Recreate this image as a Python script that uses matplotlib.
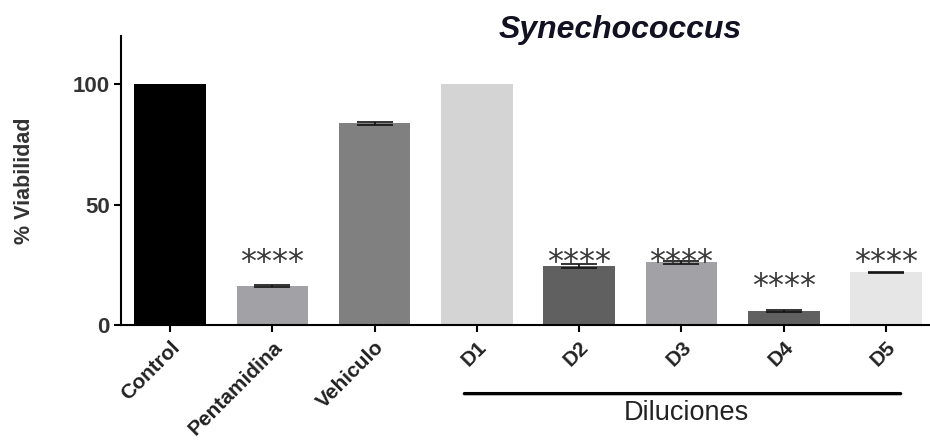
import matplotlib
matplotlib.use("Agg")
import matplotlib.pyplot as plt

plt.rcParams["font.family"] = ["Liberation Sans", "DejaVu Sans"]

categories = ["Control", "Pentamidina", "Vehiculo", "D1", "D2", "D3", "D4", "D5"]
viability = [100.0, 16.2, 83.7, 100.0, 24.5, 26.0, 5.9, 21.9]
sem = [0.0, 0.6, 0.5, 0.0, 1.0, 0.5, 0.3, 0.3]
significant = [False, True, False, False, True, True, True, True]
bar_colors = ["#000000", "#a2a2a6", "#808080", "#d4d4d4",
              "#606060", "#a2a2a6", "#606060", "#e6e6e6"]
yticks = [0, 50, 100]
dilution_group = ["D1", "D2", "D3", "D4", "D5"]

fig = plt.figure(figsize=(9.3, 4.41), dpi=100)
ax = fig.add_axes([121 / 930, 116 / 441, 809 / 930, 289 / 441])

xs = list(range(len(categories)))
ax.bar(xs, viability, width=0.7, color=bar_colors, zorder=2)
ex = [x for x, e in zip(xs, sem) if e > 0]
ey = [v for v, e in zip(viability, sem) if e > 0]
ee = [e for e in sem if e > 0]
ax.errorbar(ex, ey, yerr=ee, fmt="none", ecolor="#111111",
            elinewidth=1.2, capsize=13, capthick=1.2, zorder=3)

# significance stars: GraphPad-style, capped at a common height
for x, v, sig in zip(xs, viability, significant):
    if sig:
        ax.text(x, min(v + 10, 26.0), "****", ha="center", va="center",
                fontsize=23, color="#3a3a3a", family="DejaVu Sans", zorder=4)

ax.set_xlim(-0.48, 7.43)
ax.set_ylim(0, 120)
ax.set_yticks(yticks)
ax.set_yticklabels([str(t) for t in yticks], fontsize=16, fontweight="bold",
                   color="#333333")
ax.set_xticks(xs)
ax.set_xticklabels(categories, rotation=45, ha="right",
                   rotation_mode="anchor", fontsize=15, fontweight="bold",
                   color="#222222")
ax.tick_params(axis="both", direction="out", length=5, width=1.5,
               color="black")
ax.tick_params(axis="x", pad=4)
ax.tick_params(axis="y", pad=3)
for s in ("top", "right"):
    ax.spines[s].set_visible(False)
for s in ("left", "bottom"):
    ax.spines[s].set_linewidth(1.5)

ax.set_ylabel("% Viabilidad", fontsize=15.5, fontweight="bold",
              color="#333333", labelpad=27)

# bracket line under the dilution group
i0 = categories.index(dilution_group[0])
i1 = categories.index(dilution_group[-1])
ax.annotate("", xy=(i0 - 0.15, -28.5), xytext=(i1 + 0.17, -28.5),
            xycoords="data", annotation_clip=False,
            arrowprops=dict(arrowstyle="-", lw=2.4, color="black"))
ax.text((i0 + i1) / 2 + 0.05, -36.5, "Diluciones", ha="center", va="center",
        fontsize=19.5, color="#222222", clip_on=False)

fig.text(0.667, 0.932, "Synechococcus", ha="center", va="center",
         fontsize=23, fontweight="bold", style="italic", color="#111122")

fig.savefig("out.png", dpi=100)
